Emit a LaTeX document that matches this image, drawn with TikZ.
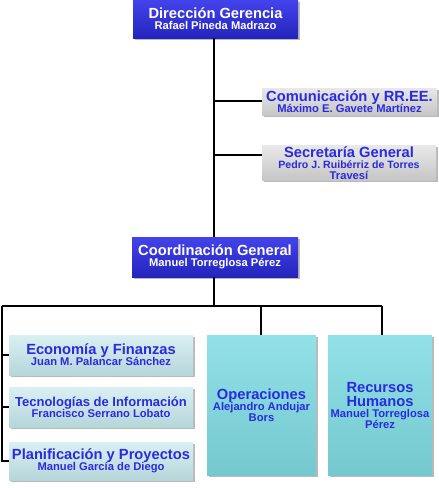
\documentclass[tikz,border=0pt]{standalone}
\usepackage{fontspec}
\setmainfont{Liberation Sans}
\usetikzlibrary{shadows}
\definecolor{dblue}{HTML}{4343EC}
\definecolor{dbluebot}{HTML}{2424BC}
\definecolor{txtblue}{HTML}{2A2AE0}
\definecolor{lgray}{HTML}{E8E8E8}
\definecolor{mgray}{HTML}{C6C6C6}
\definecolor{lcyan}{HTML}{DAF0F2}
\definecolor{mcyan}{HTML}{B6D6DA}
\definecolor{cyanbox}{HTML}{92E2E8}
\definecolor{cyanbot}{HTML}{74C8CE}
\tikzset{
  base/.style={rectangle, inner sep=1pt, align=center, font=\fontsize{11.2}{12}\selectfont\bfseries, drop shadow={shadow xshift=1.5pt, shadow yshift=-1.5pt, fill=black!45, opacity=0.6}},
  bluebox/.style={base, top color=dblue, bottom color=dbluebot, text=white},
  graybox/.style={base, top color=lgray, bottom color=mgray, text=txtblue},
  paleb/.style={base, top color=lcyan, bottom color=mcyan, text=txtblue},
  cyanb/.style={base, top color=cyanbox, bottom color=cyanbot, text=txtblue},
  conn/.style={draw=black, line width=1.2pt},
}
\newcommand{\ttl}[1]{{\fontsize{14.7}{12}\selectfont #1}}
\begin{document}
\begin{tikzpicture}[x=1pt,y=-1pt]
\useasboundingbox (0,0) rectangle (439,488);
\fill[white] (0,0) rectangle (439,488);

\node[bluebox, minimum width=165pt, minimum height=38pt] (dg) at (215.5,19) {\ttl{Dirección Gerencia}\\[-1pt]Rafael Pineda Madrazo};
\node[graybox, minimum width=175pt, minimum height=27pt] (com) at (349.5,101.5) {\ttl{Comunicación y RR.EE.}\\[-1pt]Máximo E. Gavete Martínez};
\node[graybox, minimum width=174pt, minimum height=31pt] (sec) at (349,163) {\ttl{Secretaría General}\\[-1pt]{\fontsize{10.6}{11}\selectfont Pedro J. Ruibérriz de Torres}\\[-1pt]Travesí};
\node[bluebox, minimum width=166pt, minimum height=40pt] (cg) at (215,257) {\ttl{Coordinación General}\\[-1pt]Manuel Torreglosa Pérez};

\node[paleb, minimum width=184pt, minimum height=40pt] (eco) at (101,355) {\ttl{Economía y Finanzas}\\[-1pt]Juan M. Palancar Sánchez};
\node[paleb, minimum width=184pt, minimum height=40pt] (tec) at (101,407) {{\fontsize{13}{12}\selectfont Tecnologías de Información}\\[-1pt]Francisco Serrano Lobato};
\node[paleb, minimum width=184pt, minimum height=38pt] (pla) at (101,461) {\ttl{Planificación y Proyectos}\\[-1pt]Manuel García de Diego};

\node[cyanb, minimum width=109pt, minimum height=140pt] (ope) at (261.5,405) {\ttl{Operaciones}\\[-1pt]Alejandro Andujar\\[-1pt]Bors};
\node[cyanb, minimum width=104pt, minimum height=140pt] (rh) at (380,405) {\ttl{Recursos}\\[2pt]\ttl{Humanos}\\[-1pt]Manuel Torreglosa\\[-1pt]Pérez};

\coordinate (j1) at (214,101);
\coordinate (j2) at (214,155);
\coordinate (jm) at (214,306);
\coordinate (jl) at (2,306);
\coordinate (jo) at (261,306);
\coordinate (jr) at (382,306);

\draw[conn] (dg.south -| j1) -- (cg.north -| j1);
\draw[conn] (j1) -- (j1 -| com.west);
\draw[conn] (j2) -- (j2 -| sec.west);
\draw[conn] (cg.south -| jm) -- (jm);
\draw[conn] (jl) -- (jr);
\draw[conn] (jo) -- (jo |- ope.north);
\draw[conn] (jr) -- (jr |- rh.north);
\draw[conn] (jl) |- (pla.west);
\draw[conn] (jl |- eco.west) -- (eco.west);
\draw[conn] (jl |- tec.west) -- (tec.west);
\end{tikzpicture}
\end{document}
